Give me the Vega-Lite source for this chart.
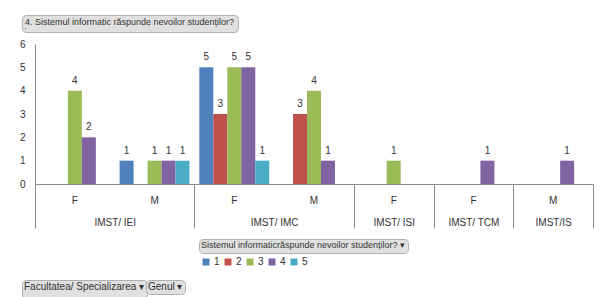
{
  "$schema": "https://vega.github.io/schema/vega-lite/v6.json",
  "width": 558,
  "height": 140,
  "autosize": {"type": "none"},
  "padding": {"left": 35, "top": 44, "right": 10, "bottom": 113},
  "background": "white",
  "config": {
    "view": {"stroke": null},
    "font": "Liberation Sans, sans-serif"
  },
  "data": {
    "values": [
      {"cat": "IMST/ IEI|F", "resp": "3", "n": 4},
      {"cat": "IMST/ IEI|F", "resp": "4", "n": 2},
      {"cat": "IMST/ IEI|M", "resp": "1", "n": 1},
      {"cat": "IMST/ IEI|M", "resp": "3", "n": 1},
      {"cat": "IMST/ IEI|M", "resp": "4", "n": 1},
      {"cat": "IMST/ IEI|M", "resp": "5", "n": 1},
      {"cat": "IMST/ IMC|F", "resp": "1", "n": 5},
      {"cat": "IMST/ IMC|F", "resp": "2", "n": 3},
      {"cat": "IMST/ IMC|F", "resp": "3", "n": 5},
      {"cat": "IMST/ IMC|F", "resp": "4", "n": 5},
      {"cat": "IMST/ IMC|F", "resp": "5", "n": 1},
      {"cat": "IMST/ IMC|M", "resp": "2", "n": 3},
      {"cat": "IMST/ IMC|M", "resp": "3", "n": 4},
      {"cat": "IMST/ IMC|M", "resp": "4", "n": 1},
      {"cat": "IMST/ ISI|F", "resp": "3", "n": 1},
      {"cat": "IMST/ TCM|F", "resp": "4", "n": 1},
      {"cat": "IMST/IS|M", "resp": "4", "n": 1}
    ]
  },
  "layer": [
    {
      "mark": {"type": "bar"},
      "encoding": {
        "x": {
          "field": "cat",
          "type": "nominal",
          "sort": null,
          "scale": {
            "domain": ["IMST/ IEI|F", "IMST/ IEI|M", "IMST/ IMC|F", "IMST/ IMC|M", "IMST/ ISI|F", "IMST/ TCM|F", "IMST/IS|M"],
            "paddingInner": 0,
            "paddingOuter": 0
          },
          "axis": {
            "orient": "bottom",
            "title": null,
            "labelExpr": "indexof(datum.value, '|M') >= 0 ? 'M' : 'F'",
            "ticks": false,
            "domain": true,
            "domainColor": "#8c8c8c",
            "labelPadding": 11,
            "labelAngle": 0,
            "labelFontSize": 10,
            "labelColor": "#333333"
          }
        },
        "xOffset": {
          "field": "resp",
          "type": "nominal",
          "scale": {"domain": ["1", "2", "3", "4", "5"], "paddingInner": 0, "paddingOuter": 0.35}
        },
        "y": {
          "field": "n",
          "type": "quantitative",
          "scale": {"domain": [0, 6]},
          "axis": {
            "title": null,
            "values": [0, 1, 2, 3, 4, 5, 6],
            "labelOverlap": false,
            "grid": false,
            "ticks": false,
            "domainColor": "#8c8c8c",
            "labelPadding": 10,
            "labelFontSize": 10,
            "labelColor": "#333333"
          }
        },
        "color": {
          "field": "resp",
          "type": "nominal",
          "scale": {
            "domain": ["1", "2", "3", "4", "5"],
            "range": ["#4F81BD", "#C0504D", "#9BBB59", "#8064A2", "#4BACC6"]
          },
          "legend": {
            "orient": "none",
            "legendX": 166,
            "legendY": 213,
            "direction": "horizontal",
            "title": null,
            "symbolType": "square",
            "symbolSize": 49,
            "symbolStrokeWidth": 0,
            "labelFontSize": 10,
            "labelOffset": 3,
            "columnPadding": 3,
            "padding": 0,
            "labelColor": "#333333"
          }
        },
        "strokeDash": {
          "datum": "t2",
          "type": "nominal",
          "scale": {"range": [[1, 0]]},
          "legend": {
            "title": "Sistemul informaticrăspunde nevoilor studenților? ▾",
            "orient": "none", "legendX": 164, "legendY": 195,
            "padding": 2, "fillColor": "#e0e0e0", "strokeColor": "#b0b0b0", "cornerRadius": 4,
            "titleFontSize": 9, "titleFontWeight": "normal", "titleColor": "#333333", "titleLimit": 500, "titlePadding": 0,
            "symbolSize": 1, "symbolOpacity": 0, "symbolStrokeWidth": 0,
            "labelFontSize": 1, "labelExpr": "''", "labelOpacity": 0
          }
        }
      }
    },
    {
      "mark": {"type": "text", "baseline": "bottom", "dy": -5, "fontSize": 10, "color": "#333333"},
      "encoding": {
        "x": {
          "field": "cat",
          "type": "nominal",
          "sort": null,
          "axis": {
            "orient": "bottom",
            "title": null,
            "domain": false,
            "labelAngle": 0,
            "tickBand": "extent",
            "tickSize": 44,
            "tickColor": "#8c8c8c",
            "tickOpacity": {
              "condition": {"test": "datum.value == 'IMST/ IEI|F' || datum.value == 'IMST/ IMC|F'", "value": 0},
              "value": 1
            },
            "labelExpr": "datum.value == 'IMST/ IEI|M' || datum.value == 'IMST/ IMC|M' || !datum.value ? '' : split(datum.value, '|')[0]",
            "labelOffset": {
              "condition": {"test": "datum.value == 'IMST/ IEI|F' || datum.value == 'IMST/ IMC|F'", "value": 39.86},
              "value": 0
            },
            "labelPadding": -11,
            "labelFontSize": 10,
            "labelColor": "#333333"
          }
        },
        "xOffset": {"field": "resp", "type": "nominal"},
        "y": {
          "field": "n",
          "type": "quantitative",
          "axis": {
            "title": null,
            "values": [0, 1, 2, 3, 4, 5, 6],
            "labelOverlap": false,
            "grid": false,
            "ticks": false,
            "domainColor": "#8c8c8c",
            "labelPadding": 10,
            "labelFontSize": 10,
            "labelColor": "#333333"
          }
        },
        "text": {"field": "n", "type": "quantitative"},
        "opacity": {
          "datum": "t1",
          "type": "nominal",
          "scale": {"range": [1, 1]},
          "legend": {
            "title": "4. Sistemul informatic răspunde nevoilor studenților?",
            "orient": "none", "legendX": -13, "legendY": -29,
            "padding": 3, "fillColor": "#e0e0e0", "strokeColor": "#b0b0b0", "cornerRadius": 4,
            "titleFontSize": 9, "titleFontWeight": "normal", "titleColor": "#333333", "titleLimit": 500, "titlePadding": 1,
            "symbolSize": 1, "symbolOpacity": 0, "symbolStrokeWidth": 0,
            "labelFontSize": 1, "labelExpr": "''", "labelOpacity": 0
          }
        },
        "size": {
          "datum": "t3",
          "type": "nominal",
          "scale": {"range": [10, 10]},
          "legend": {
            "title": "Facultatea/ Specializarea ▾",
            "orient": "none", "legendX": -13, "legendY": 236,
            "padding": 2, "fillColor": "#e0e0e0", "strokeColor": "#b0b0b0", "cornerRadius": 4,
            "titleFontSize": 10, "titleFontWeight": "normal", "titleColor": "#333333", "titleLimit": 500, "titlePadding": 0,
            "symbolSize": 1, "symbolOpacity": 0, "symbolStrokeWidth": 0,
            "labelFontSize": 1, "labelExpr": "''", "labelOpacity": 0
          }
        },
        "strokeWidth": {
          "datum": "t4",
          "type": "nominal",
          "scale": {"range": [0, 0]},
          "legend": {
            "title": "Genul ▾",
            "orient": "none", "legendX": 111, "legendY": 236,
            "padding": 2, "fillColor": "#e0e0e0", "strokeColor": "#b0b0b0", "cornerRadius": 4,
            "titleFontSize": 10, "titleFontWeight": "normal", "titleColor": "#333333", "titleLimit": 500, "titlePadding": 0,
            "symbolSize": 1, "symbolOpacity": 0, "symbolStrokeWidth": 0,
            "labelFontSize": 1, "labelExpr": "''", "labelOpacity": 0
          }
        }
      }
    }
  ],
  "resolve": {"axis": {"x": "independent"}}
}
